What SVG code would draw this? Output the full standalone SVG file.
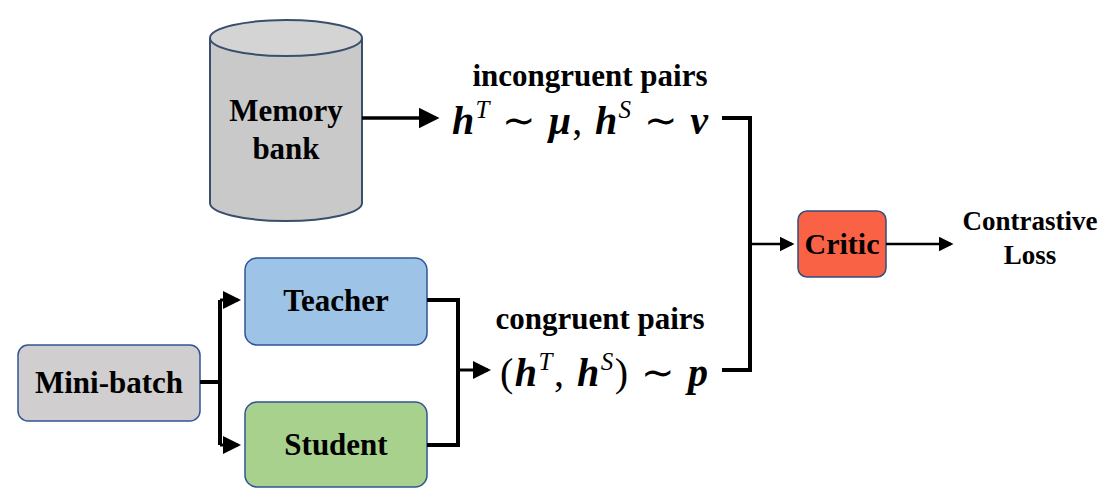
<svg xmlns="http://www.w3.org/2000/svg" width="1108" height="500" viewBox="0 0 1108 500">
<style>
.lbl{font-family:"Liberation Serif",serif;font-weight:bold;fill:#000;text-anchor:middle}
.math{font-family:"Liberation Serif",serif;font-weight:bold;font-style:italic;font-size:40px;fill:#000}
.up{font-family:"Liberation Serif",serif;font-weight:normal;font-style:normal;font-size:40px}
.sup{font-size:25px;font-weight:normal}
.box{stroke-width:1.5}
.c{fill:none;stroke:#000;stroke-width:4}
</style>
<defs><marker id="a" markerWidth="6" markerHeight="6" refX="5" refY="3" orient="auto" markerUnits="strokeWidth"><path d="M0,0L6,3L0,6z" fill="#000"/></marker></defs>
<rect width="1108" height="500" fill="#fff"/>
<g id="memory">
<path d="M210,38 V203 A76,18 0 0 0 362,203 V38" fill="#c9c9c9" stroke="#3a4f6e" stroke-width="2"/>
<ellipse cx="286" cy="38" rx="76" ry="18" fill="#d4d4d4" stroke="#3a4f6e" stroke-width="2"/>
<text class="lbl" x="286" y="121" font-size="31">Memory</text>
<text class="lbl" x="286" y="159" font-size="31">bank</text>
</g>
<g id="incongruent">
<text class="lbl" x="590" y="86" font-size="31">incongruent pairs</text>
<text class="math" x="452" y="134" textLength="256" lengthAdjust="spacing">h<tspan class="sup" dy="-16">T</tspan><tspan class="up" dy="16"> ∼ </tspan>μ<tspan class="up">, </tspan>h<tspan class="sup" dy="-16">S</tspan><tspan class="up" dy="16"> ∼ </tspan>ν</text>
</g>
<g id="critic">
<rect class="box" x="798" y="211" width="88" height="66" rx="9" fill="#fa6245" stroke="#2f4f7f"/>
<text class="lbl" x="842" y="254" font-size="30">Critic</text>
</g>
<g id="loss">
<text class="lbl" x="1030" y="230" font-size="27">Contrastive</text>
<text class="lbl" x="1030" y="264" font-size="27">Loss</text>
</g>
<g id="minibatch">
<rect class="box" x="18" y="345" width="182" height="76" rx="10" fill="#d0cece" stroke="#2f5597"/>
<text class="lbl" x="109" y="393" font-size="31">Mini-batch</text>
</g>
<g id="teacher">
<rect class="box" x="245" y="258" width="182" height="87" rx="12" fill="#9dc3e6" stroke="#2f5597"/>
<text class="lbl" x="336" y="311" font-size="31">Teacher</text>
</g>
<g id="student">
<rect class="box" x="245" y="402" width="182" height="85" rx="12" fill="#a9d18e" stroke="#2f5597"/>
<text class="lbl" x="336" y="455" font-size="31">Student</text>
</g>
<g id="congruent">
<text class="lbl" x="600" y="329" font-size="31">congruent pairs</text>
<text class="math" x="500" y="386" textLength="208" lengthAdjust="spacing"><tspan class="up">(</tspan>h<tspan class="sup" dy="-16">T</tspan><tspan class="up" dy="16">, </tspan>h<tspan class="sup" dy="-16">S</tspan><tspan class="up" dy="16">) ∼ </tspan>p</text>
</g>
<g id="connectors">
<path class="c" d="M362,118 H436" marker-end="url(#a)" style="stroke-width:3.5"/>
<path class="c" d="M722,118 H750 V370 H722"/>
<path class="c" d="M750,244 H792" marker-end="url(#a)" style="stroke-width:2.5"/>
<path class="c" d="M886,244 H951" marker-end="url(#a)" style="stroke-width:2.5"/>
<path class="c" d="M200,382 H220"/>
<path class="c" d="M220,300 V445"/>
<path class="c" d="M220,300 H238" marker-end="url(#a)" style="stroke-width:3"/>
<path class="c" d="M220,445 H238" marker-end="url(#a)" style="stroke-width:3"/>
<path class="c" d="M427,300 H458 V445 H427"/>
<path class="c" d="M458,370 H488" marker-end="url(#a)" style="stroke-width:3"/>
</g>
</svg>
